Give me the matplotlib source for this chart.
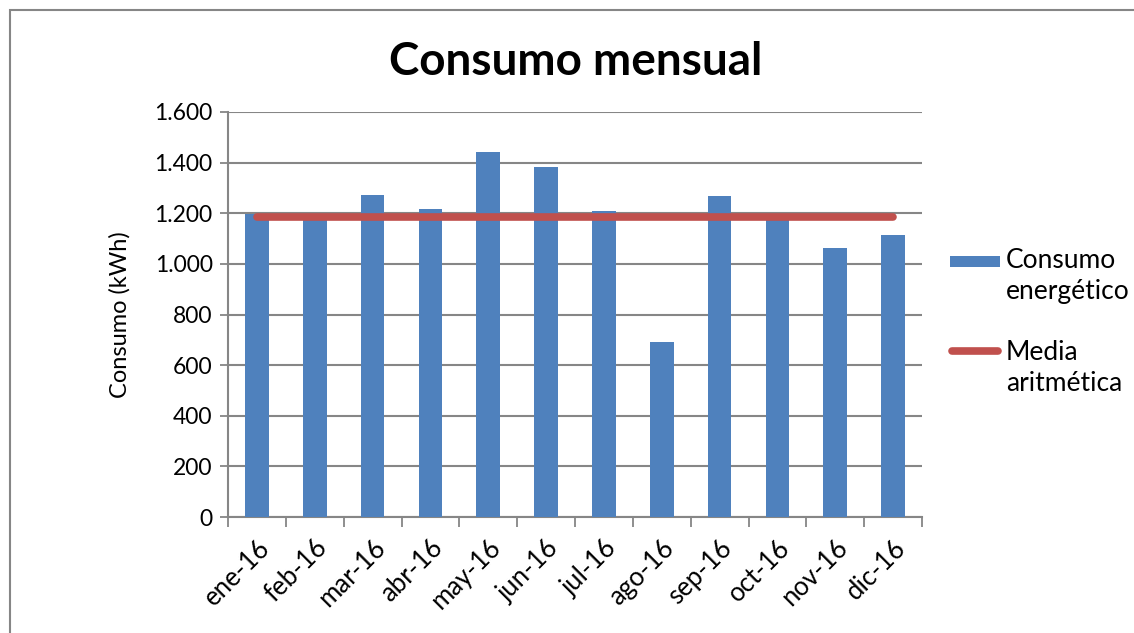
import numpy as np
import matplotlib
matplotlib.use('Agg')
import matplotlib.pyplot as plt
from matplotlib.patches import Rectangle
from matplotlib.lines import Line2D
from matplotlib.ticker import FuncFormatter

# values
months = ['ene-16', 'feb-16', 'mar-16', 'abr-16', 'may-16', 'jun-16',
          'jul-16', 'ago-16', 'sep-16', 'oct-16', 'nov-16', 'dic-16']
consumo = [1196, 1185, 1274, 1218, 1442, 1383, 1209, 690, 1269, 1185, 1064, 1114]
media = [1186] * 12
y_ticks = [0, 200, 400, 600, 800, 1000, 1200, 1400, 1600]

plt.rcParams['font.family'] = ['Lato', 'DejaVu Sans']

W, H = 1134, 633
fig = plt.figure(figsize=(W / 100, H / 100), dpi=100)
bar_col = '#4F81BD'
line_col = '#C0504D'
grey = '#868686'


def fx(px):
    return px / W


def fy(py):
    return 1 - py / H


# outer chart frame (right and bottom edges fall outside the image)
fig.patches.append(Rectangle((fx(10), -0.2), 1.2, 1.2 - 10 / H, transform=fig.transFigure,
                             fill=False, edgecolor=grey, linewidth=1.5))

ax = fig.add_axes([fx(228), fy(517), (922 - 228) / W, (517 - 112) / H])

x = np.arange(len(months))
ax.bar(x, consumo, width=0.41, color=bar_col, zorder=3)
ax.plot(x, media, color=line_col, linewidth=5.5, solid_capstyle='round', zorder=4)

ax.set_xlim(-0.5, len(months) - 0.5)
ax.set_ylim(0, 1600)
ax.set_yticks(y_ticks)
ax.yaxis.set_major_formatter(FuncFormatter(lambda v, p: f'{int(v):,}'.replace(',', '.')))
ax.grid(axis='y', color=grey, linewidth=1.5, zorder=0)

ax.set_xticks(x)
ax.set_xticklabels(months, rotation=45, ha='right', rotation_mode='anchor', fontsize=18.5)
ax.set_xticks(np.arange(-0.5, len(months)), minor=True)
ax.tick_params(axis='x', which='major', length=0, pad=13)
ax.tick_params(axis='x', which='minor', length=7, color=grey, width=1.3)
ax.tick_params(axis='y', length=6, color=grey, width=1.3, labelsize=16.5, pad=5)

for side in ['top', 'right']:
    ax.spines[side].set_visible(False)
for side in ['left', 'bottom']:
    ax.spines[side].set_color(grey)
    ax.spines[side].set_linewidth(1.5)

ax.set_ylabel('Consumo (kWh)', fontsize=17, labelpad=17)
fig.text(fx(576), fy(62), 'Consumo mensual', ha='center', va='center',
         fontsize=33, fontweight='bold')

# legend, handles aligned with the first line of each label as in the original
fig.patches.append(Rectangle((fx(950), fy(267)), fx(50), 11 / H, transform=fig.transFigure,
                             facecolor=bar_col, edgecolor='none'))
fig.lines.append(Line2D([fx(952), fx(998)], [fy(351), fy(351)], transform=fig.transFigure,
                        color=line_col, linewidth=5.5, solid_capstyle='round'))
fig.text(fx(1006), fy(248), 'Consumo\nenergético', ha='left', va='top', fontsize=19,
         linespacing=1.3)
fig.text(fx(1006), fy(340), 'Media\naritmética', ha='left', va='top', fontsize=19,
         linespacing=1.3)

fig.savefig('out.png', dpi=100)
